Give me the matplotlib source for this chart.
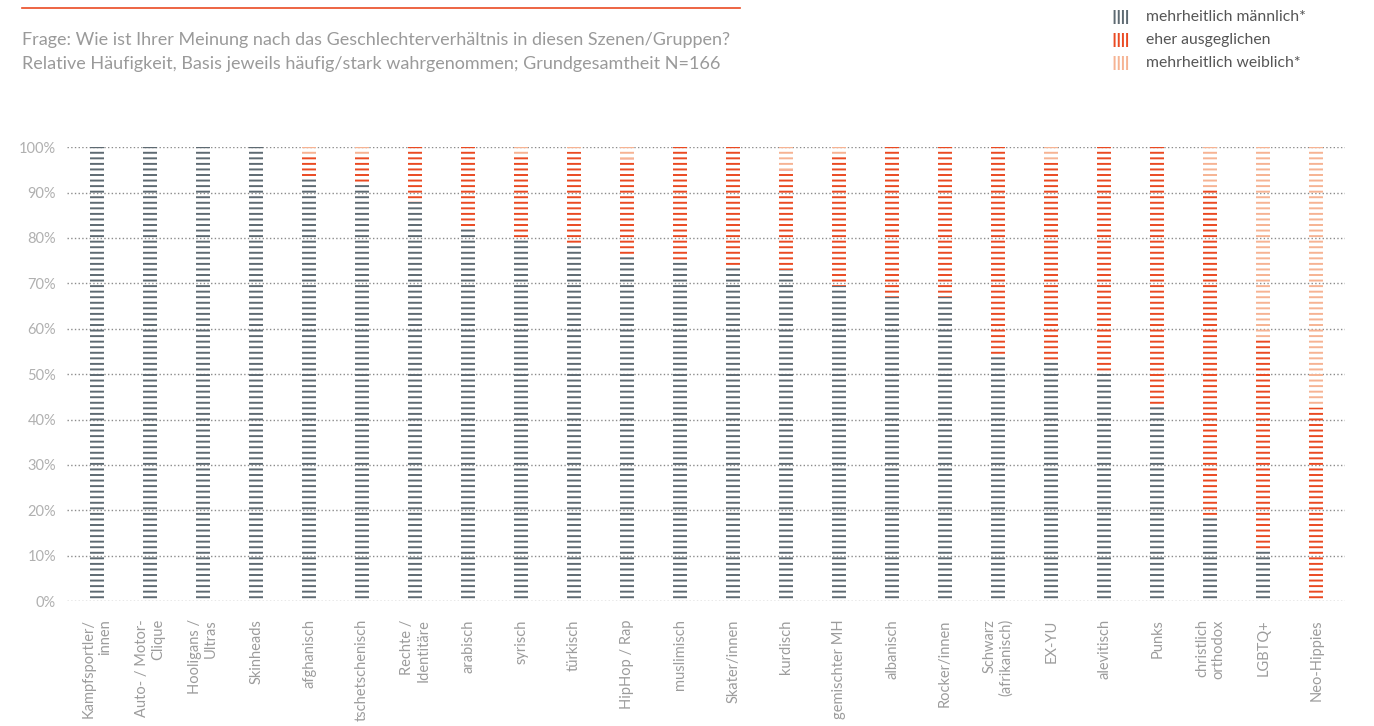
import matplotlib.pyplot as plt
from matplotlib.patches import Rectangle

plt.rcParams['font.family'] = ['Lato', 'DejaVu Sans']
plt.rcParams['hatch.linewidth'] = 1.4

# Daten: Anteile in %
kategorien = ["Kampfsportler/\ninnen", "Auto- / Motor-\nClique", "Hooligans /\nUltras",
              "Skinheads", "afghanisch", "tschetschenisch", "Rechte /\nIdentitäre",
              "arabisch", "syrisch", "türkisch", "HipHop / Rap", "muslimisch",
              "Skater/innen", "kurdisch", "gemischter MH", "albanisch", "Rocker/innen",
              "Schwarz\n(afrikanisch)", "EX-YU", "alevitisch", "Punks",
              "christlich\northodox", "LGBTQ+", "Neo-Hippies"]
maennlich = [100, 100, 100, 100, 93, 92, 88, 82, 80, 78.5, 76, 75, 73.5, 73, 69.5,
             67, 67, 54, 53, 50, 43, 18.5, 11, 0]
ausgeglichen = [0, 0, 0, 0, 5.5, 6.5, 12, 18, 18.5, 20.5, 21.5, 25, 26.5, 22, 29,
                33, 33, 46, 43.5, 50, 57, 72.5, 46.5, 42.5]
weiblich = [0, 0, 0, 0, 1.5, 1.5, 0, 0, 1.5, 1, 2.5, 0, 0, 5, 1.5, 0, 0, 0, 3.5,
            0, 0, 9, 42.5, 57.5]
serien = ["mehrheitlich männlich*", "eher ausgeglichen", "mehrheitlich weiblich*"]
farben = ["#5e6a72", "#ea4a22", "#f6b393"]

fig = plt.figure(figsize=(13.74, 7.26), dpi=100)
ax = fig.add_axes([0.0488, 0.172, 0.9302, 0.6253])

x = range(len(kategorien))
unten = [0] * len(kategorien)
for werte, farbe in zip([maennlich, ausgeglichen, weiblich], farben):
    ax.bar(x, werte, bottom=unten, width=0.264, facecolor='none',
           edgecolor=farbe, hatch='---', linewidth=0, zorder=3)
    unten = [u + w for u, w in zip(unten, werte)]

ax.set_xlim(-0.566, 23.547)
ax.set_ylim(0, 100)
ax.set_yticks(range(0, 101, 10))
ax.set_yticklabels([f"{v}%" for v in range(0, 101, 10)])
ax.grid(axis='y', linestyle=':', color='#8c8c8c', linewidth=1.0, zorder=0)
ax.set_xticks(list(x))
ax.set_xticklabels(kategorien, rotation=90, ha='center', va='top',
                   multialignment='right')
ax.tick_params(axis='both', length=0, colors='#b0b0b0', labelsize=10.5)
ax.tick_params(axis='y', pad=8)
ax.tick_params(axis='x', pad=13, colors='#9c9c9c')
for s in ax.spines.values():
    s.set_visible(False)

# Kopfzeile
fig.add_artist(plt.Line2D([22 / 1374, 740 / 1374], [1 - 8 / 726, 1 - 8 / 726],
                          color='#ea4a22', linewidth=1.2))
fig.text(22 / 1374, 1 - 40 / 726,
         "Frage: Wie ist Ihrer Meinung nach das Geschlechterverhältnis in diesen Szenen/Gruppen?",
         fontsize=13, color='#9a9a9a', va='center', ha='left')
fig.text(22 / 1374, 1 - 64 / 726,
         "Relative Häufigkeit, Basis jeweils häufig/stark wahrgenommen; Grundgesamtheit N=166",
         fontsize=13, color='#9a9a9a', va='center', ha='left')

# Legende
for i, (name, farbe) in enumerate(zip(serien, farben)):
    yc = 1 - (17 + 23 * i) / 726
    fig.add_artist(Rectangle((1112 / 1374, yc - 7 / 726), 18 / 1374, 14 / 726,
                             transform=fig.transFigure, facecolor='none',
                             edgecolor=farbe, hatch='||||', linewidth=0))
    fig.text(1146 / 1374, yc, name, fontsize=11.3, color='#555555', va='center', ha='left')

fig.savefig('out.png', dpi=100)
